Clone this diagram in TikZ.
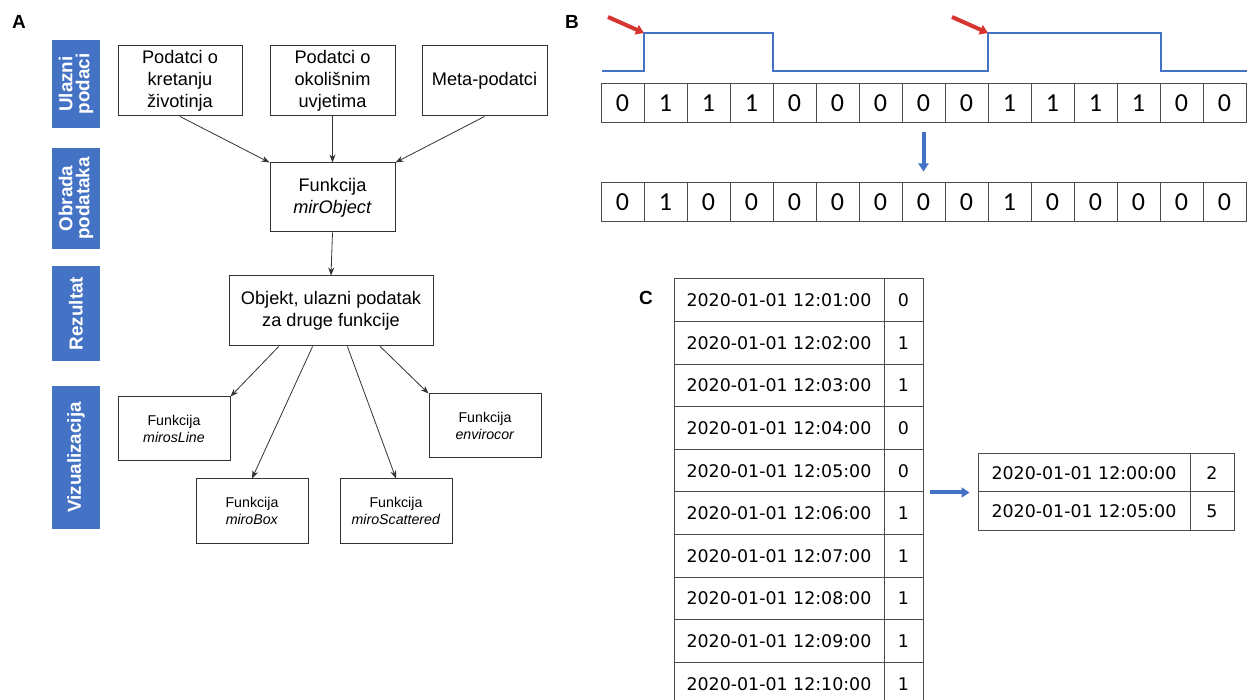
\documentclass[tikz,border=0pt]{standalone}
\usepackage{fontspec}
\setmainfont{Liberation Sans}
\newfontfamily\bitfont{Carlito}
\newfontfamily\timefont{DejaVu Sans}
\usetikzlibrary{calc,arrows.meta}
\definecolor{barblue}{RGB}{68,114,196}
\definecolor{arrred}{RGB}{214,52,46}
\tikzset{
  panel/.style={font=\bfseries\fontsize{9.5}{11}\selectfont},
  sidebar/.style={fill=barblue, text=white, rotate=90, align=center, inner sep=0pt,
    minimum height=24pt, font=\bfseries\fontsize{9.4}{8.6}\selectfont},
  bigbox/.style={draw=black!80, line width=0.5pt, align=center, inner sep=0pt,
    font=\fontsize{9.1}{10.9}\selectfont},
  smallbox/.style={draw=black!80, line width=0.5pt, align=center, inner sep=0pt,
    minimum width=56pt, minimum height=32pt, font=\fontsize{7.1}{8.7}\selectfont},
  flow/.style={draw=black!80, line width=0.4pt, -{Stealth[length=4pt,width=3pt]}},
  bitcell/.style={draw=black!70, line width=0.5pt, minimum width=21.5pt, minimum height=19.5pt,
    inner sep=0pt, font=\bitfont\fontsize{13}{14}\selectfont},
  timecell/.style={draw=black!70, line width=0.5pt, minimum width=105pt, minimum height=21.3pt,
    inner sep=0pt, font=\timefont\fontsize{8.7}{10}\selectfont},
  valcell/.style={timecell, minimum width=19.5pt},
  signal/.style={barblue, line width=0.75pt},
  fatarrow/.style={barblue, line width=2pt, -{Triangle[length=4pt,width=5pt]}},
  redarrow/.style={arrred, line width=2pt, -{Triangle[length=4pt,width=5pt]}}
}

\begin{document}
\begin{tikzpicture}[x=0.5pt,y=-0.5pt]
\useasboundingbox (0,0) rectangle (1249,700);
\clip (0,0) rectangle (1249,700);

% A
\node[panel] (labA) at (19,22) {A};
\node[sidebar, minimum width=44pt] (ulazni) at (76,84) {Ulazni\\podaci};
\node[sidebar, minimum width=50.5pt] (obrada) at (76,198.5) {Obrada\\podataka};
\node[sidebar, minimum width=47.5pt] (rezultat) at (76,313.5) {Rezultat};
\node[sidebar, minimum width=71.5pt] (vizual) at (76,457.5) {Vizualizacija};

\node[bigbox, minimum width=62pt, minimum height=35pt] (podkret) at (180,81) {Podatci o\\kretanju\\životinja};
\node[bigbox, minimum width=62.5pt, minimum height=35pt] (podokol) at (332.5,81) {Podatci o\\okolišnim\\uvjetima};
\node[bigbox, minimum width=62.5pt, minimum height=35pt] (meta) at (484.5,81) {Meta-podatci};
\node[bigbox, minimum width=62.5pt, minimum height=34.5pt] (mirobj) at (332.5,197.5) {Funkcija\\\textit{mirObject}};
\node[bigbox, minimum width=102pt, minimum height=35pt] (objekt) at (331,311) {Objekt, ulazni podatak\\za druge funkcije};

\node[smallbox] (miline) at (174,429) {Funkcija\\\textit{mirosLine}};
\node[smallbox] (envir) at (485,426) {Funkcija\\\textit{envirocor}};
\node[smallbox] (mibox) at (252,511) {Funkcija\\\textit{miroBox}};
\node[smallbox] (miscat) at (396,511) {Funkcija\\\textit{miroScattered}};

\draw[flow] (podkret.south) -- (mirobj.north west);
\draw[flow] (podokol.south) -- (mirobj.north);
\draw[flow] (meta.south) -- (mirobj.north east);
\draw[flow] (mirobj.south) -- (objekt.north);
\draw[flow] ($(objekt.south west)!0.245!(objekt.south east)$) -- (miline.north east);
\draw[flow] ($(objekt.south west)!0.41!(objekt.south east)$) -- (mibox.north);
\draw[flow] ($(objekt.south west)!0.58!(objekt.south east)$) -- (miscat.north);
\draw[flow] ($(objekt.south west)!0.74!(objekt.south east)$) -- (envir.north west);

% B
\node[panel] (labB) at (572,22) {B};
\foreach \v [count=\i from 0] in {0,1,1,1,0,0,0,0,0,1,1,1,1,0,0}
  \node[bitcell] (top\i) at ({622.5+43*\i},103.5) {\v};
\foreach \v [count=\i from 0] in {0,1,0,0,0,0,0,0,0,1,0,0,0,0,0}
  \node[bitcell] (bot\i) at ({622.5+43*\i},202.5) {\v};
\draw[signal] (602,71) -- (644,71) -- (644,33) -- (773,33) -- (773,71)
  -- (988,71) -- (988,33) -- (1161,33) -- (1161,71) -- (1247,71);
\coordinate (rise1) at (644,33);
\coordinate (rise2) at (988,33);
\coordinate (red1) at (608,17);
\coordinate (red2) at (952,17);
\draw[redarrow] (red1) -- (rise1);
\draw[redarrow] (red2) -- (rise2);
\draw[fatarrow, shorten <=4.5pt, shorten >=5.5pt] (top7.south) -- (bot7.north);

% C
\node[panel] (labC) at (646,298) {C};
\foreach \m/\v [count=\i from 0] in {01/0,02/1,03/1,04/0,05/0,06/1,07/1,08/1,09/1,10/1} {
  \node[timecell] (ct\i) at (779,{300.3+42.6*\i}) {2020-01-01 12:\m:00};
  \node[valcell] (cv\i) at (903.5,{300.3+42.6*\i}) {\v};
}
\node[timecell, minimum width=106pt, minimum height=19pt] (dt0) at (1084,473) {2020-01-01 12:00:00};
\node[valcell, minimum width=22pt, minimum height=19pt] (dv0) at (1212,473) {2};
\node[timecell, minimum width=106pt, minimum height=19pt] (dt1) at (1084,511) {2020-01-01 12:05:00};
\node[valcell, minimum width=22pt, minimum height=19pt] (dv1) at (1212,511) {5};
\draw[fatarrow, shorten <=3pt, shorten >=4pt] (cv4.south east) -- (dt0.south west);
\end{tikzpicture}
\end{document}
